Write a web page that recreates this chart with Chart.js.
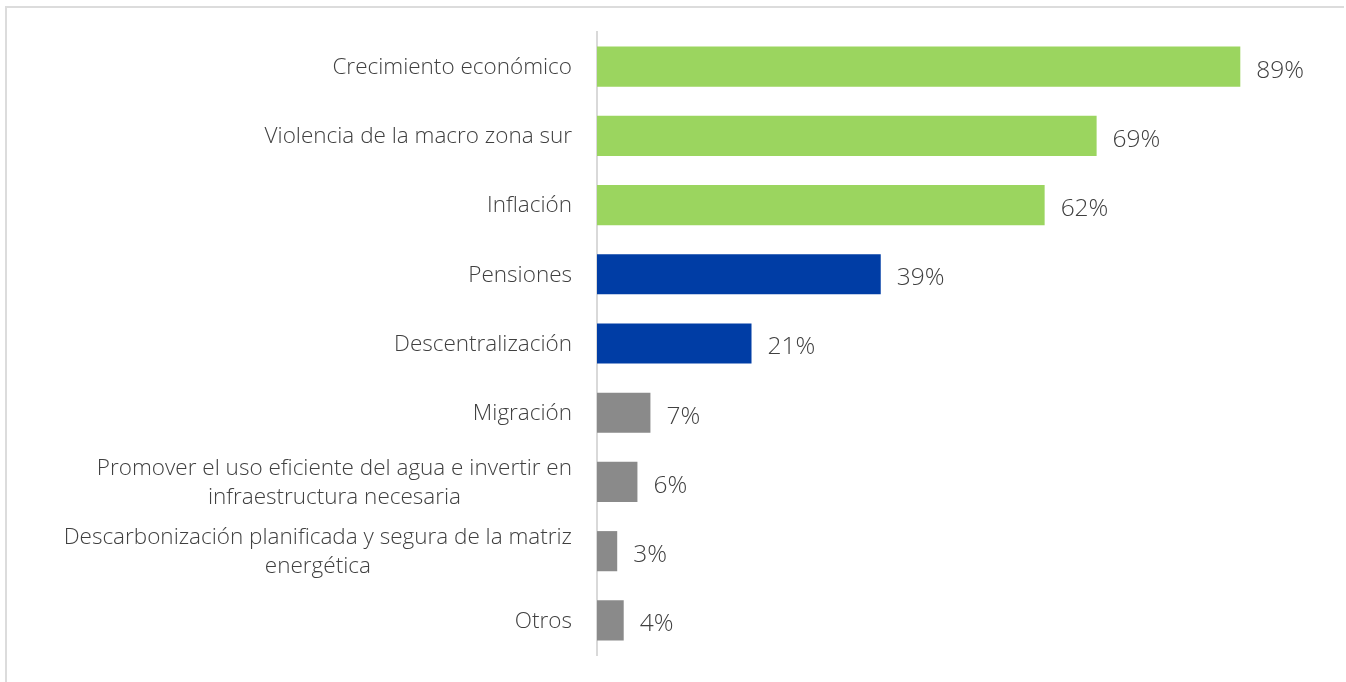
<!DOCTYPE html>
<html>
<head>
<meta charset="utf-8">
<script src="https://cdn.jsdelivr.net/npm/chart.js@4"></script>
<style>
  html, body { margin: 0; padding: 0; background: #fff; }
  #wrap { position: relative; width: 1346px; height: 682px; overflow: hidden; }
  #frame { position: absolute; left: 5px; top: 6px; width: 1339px; height: 700px;
           border-top: 2px solid #dcdcdc; border-left: 2px solid #dcdcdc; box-sizing: border-box; }
  canvas { position: absolute; left: 0; top: 0; }
</style>
</head>
<body>
<div id="wrap">
  <div id="frame"></div>
  <canvas id="chart" width="1346" height="682"></canvas>
</div>
<script>
const categories = [
  ["Crecimiento económico"],
  ["Violencia de la macro zona sur"],
  ["Inflación"],
  ["Pensiones"],
  ["Descentralización"],
  ["Migración"],
  ["Promover el uso eficiente del agua e invertir en", "infraestructura necesaria"],
  ["Descarbonización planificada y segura de la matriz", "energética"],
  ["Otros"]
];
// bar lengths as measured (the labels show them rounded)
const values = [89.1, 69.2, 62.0, 39.3, 21.4, 7.4, 5.6, 2.8, 3.7];
const barColors = ["#9bd55f", "#9bd55f", "#9bd55f", "#003da5", "#003da5",
                   "#8a8a8a", "#8a8a8a", "#8a8a8a", "#8a8a8a"];

const textColor = "#404040";
const fontFamily = "'Open Sans', sans-serif";

// category labels: right aligned block, lines centered within block
const labelPlugin = {
  id: "labels",
  afterDraw(chart) {
    const ctx = chart.ctx;
    const y = chart.scales.y;
    const right = chart.chartArea.left - 25;
    ctx.save();
    ctx.fillStyle = textColor;
    ctx.font = "300 22.5px " + fontFamily;
    ctx.textBaseline = "middle";
    ctx.textAlign = "center";
    categories.forEach((lines, i) => {
      const cy = y.getPixelForTick(i) + 1;
      const widest = Math.max(...lines.map((l) => ctx.measureText(l).width));
      const cx = right - widest / 2;
      const lh = 29;
      lines.forEach((l, j) => {
        ctx.fillText(l, cx, cy + (j - (lines.length - 1) / 2) * lh);
      });
    });

    // value labels
    const meta = chart.getDatasetMeta(0);
    ctx.font = "300 24.5px " + fontFamily;
    ctx.textAlign = "left";
    meta.data.forEach((bar, i) => {
      ctx.fillText(Math.round(values[i]) + "%", bar.x + 16, bar.y + 4);
    });
    ctx.restore();
  }
};

new Chart(document.getElementById("chart"), {
  type: "bar",
  data: {
    labels: categories,
    datasets: [{
      data: values,
      backgroundColor: barColors,
      borderWidth: 0,
      barPercentage: 0.58,
      categoryPercentage: 1
    }]
  },
  options: {
    indexAxis: "y",
    responsive: false,
    animation: false,
    layout: { padding: { top: 32, bottom: 27, right: 27, left: 0 } },
    plugins: { legend: { display: false }, tooltip: { enabled: false } },
    scales: {
      x: { display: false, min: 0, max: 100 },
      y: {
        grid: { display: false },
        border: { display: true, color: "#d9d9d9", width: 2 },
        ticks: { display: false },
        afterFit: (s) => { s.width = 597; }
      }
    }
  },
  plugins: [labelPlugin]
});
</script>
</body>
</html>
